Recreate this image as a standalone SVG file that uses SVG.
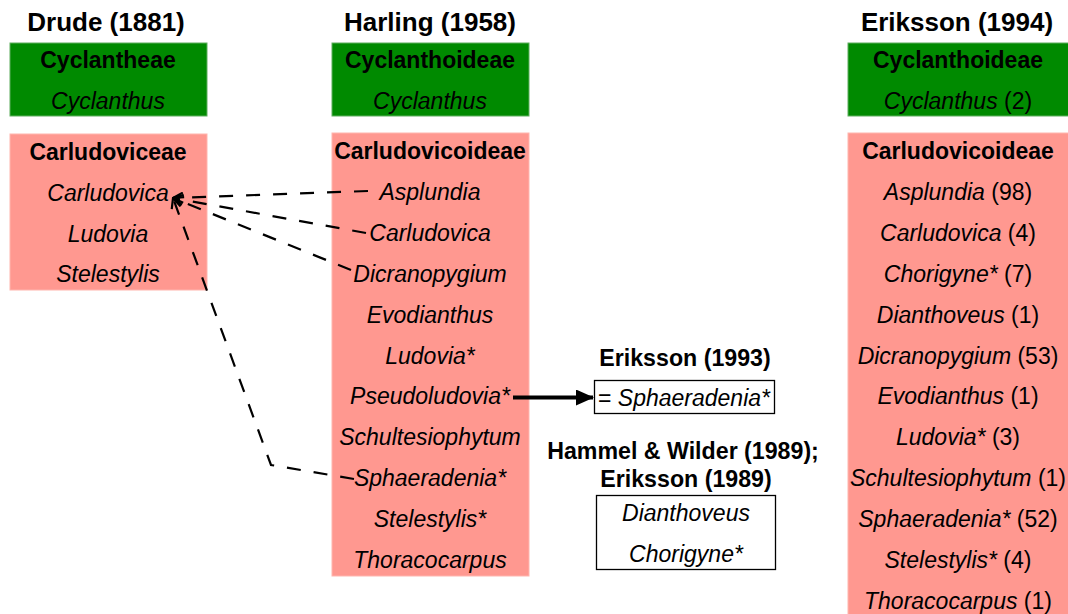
<svg xmlns="http://www.w3.org/2000/svg" width="1068" height="614" viewBox="0 0 1068 614">
<defs>
<style>
text{font-family:"Liberation Sans",Arial,sans-serif;fill:#000;text-anchor:middle}
.title{font-size:26px;font-weight:bold}
.sub{font-size:23.2px;font-weight:bold}
.hd{font-size:23px;font-weight:bold}
.it{font-size:23px;font-style:italic}
.n{font-style:normal}
.green{fill:#008a00;stroke:#5fae5f;stroke-width:1}
.pink{fill:#ff9890;stroke:#ffb5ae;stroke-width:1}
.wbox{fill:#fff;stroke:#000;stroke-width:1.3}
.dash{fill:none;stroke:#000;stroke-width:2.2;stroke-dasharray:14,13}
</style>
<marker id="open" viewBox="0 0 12 12" refX="11" refY="6" markerWidth="12" markerHeight="12" markerUnits="userSpaceOnUse" orient="auto">
<path d="M1,1 L11,6 L1,11" fill="none" stroke="#000" stroke-width="2.2"/>
</marker>
<marker id="solid" viewBox="0 0 18 16" refX="17" refY="8" markerWidth="18" markerHeight="16" markerUnits="userSpaceOnUse" orient="auto">
<path d="M0,0 L18,8 L0,16 Z" fill="#000"/>
</marker>
</defs>

<g id="drude">
<text class="title" x="106" y="30.5">Drude (1881)</text>
<rect class="green" x="10" y="43" width="197" height="73"/>
<text class="hd" x="108" y="68">Cyclantheae</text>
<text class="it" x="108" y="109">Cyclanthus</text>
<rect class="pink" x="10" y="134" width="197" height="156"/>
<text class="hd" x="108" y="159.5">Carludoviceae</text>
<text class="it" x="108" y="200.5">Carludovica</text>
<text class="it" x="108" y="241.5">Ludovia</text>
<text class="it" x="108" y="282">Stelestylis</text>
</g>

<g id="harling">
<text class="title" x="430" y="30.5">Harling (1958)</text>
<rect class="green" x="332" y="43" width="197" height="73"/>
<text class="hd" x="430" y="68">Cyclanthoideae</text>
<text class="it" x="430" y="109">Cyclanthus</text>
<rect class="pink" x="332" y="133" width="197" height="443"/>
<text class="hd" x="430" y="159">Carludovicoideae</text>
<text class="it" x="430" y="199.9">Asplundia</text>
<text class="it" x="430" y="240.8">Carludovica</text>
<text class="it" x="430" y="281.7">Dicranopygium</text>
<text class="it" x="430" y="322.6">Evodianthus</text>
<text class="it" x="430" y="363.5">Ludovia*</text>
<text class="it" x="430" y="404.4">Pseudoludovia*</text>
<text class="it" x="430" y="445.3">Schultesiophytum</text>
<text class="it" x="430" y="486.2">Sphaeradenia*</text>
<text class="it" x="430" y="527.1">Stelestylis*</text>
<text class="it" x="430" y="568">Thoracocarpus</text>
</g>

<g id="eriksson1993">
<text class="sub" x="685" y="365.5">Eriksson (1993)</text>
<rect class="wbox" x="594.5" y="380.5" width="180" height="33"/>
<text class="it" x="684" y="405.5"><tspan class="n">= </tspan>Sphaeradenia*</text>
</g>

<g id="hammel1989">
<text class="sub" x="683" y="458.5">Hammel &amp; Wilder (1989);</text>
<text class="sub" x="686" y="486.5">Eriksson (1989)</text>
<rect class="wbox" x="596.5" y="495.5" width="179" height="74"/>
<text class="it" x="686" y="521">Dianthoveus</text>
<text class="it" x="686" y="562">Chorigyne*</text>
</g>

<g id="eriksson1994">
<text class="title" x="957" y="30.5">Eriksson (1994)</text>
<rect class="green" x="848" y="43" width="221" height="73"/>
<text class="hd" x="958" y="68">Cyclanthoideae</text>
<text class="it" x="958" y="109">Cyclanthus<tspan class="n"> (2)</tspan></text>
<rect class="pink" x="848" y="133" width="221" height="482"/>
<text class="hd" x="958" y="159">Carludovicoideae</text>
<text class="it" x="958" y="199.9">Asplundia<tspan class="n"> (98)</tspan></text>
<text class="it" x="958" y="240.8">Carludovica<tspan class="n"> (4)</tspan></text>
<text class="it" x="958" y="281.7">Chorigyne*<tspan class="n"> (7)</tspan></text>
<text class="it" x="958" y="322.6">Dianthoveus<tspan class="n"> (1)</tspan></text>
<text class="it" x="958" y="363.5">Dicranopygium<tspan class="n"> (53)</tspan></text>
<text class="it" x="958" y="404.4">Evodianthus<tspan class="n"> (1)</tspan></text>
<text class="it" x="958" y="445.3">Ludovia*<tspan class="n"> (3)</tspan></text>
<text class="it" x="958" y="486.2">Schultesiophytum<tspan class="n"> (1)</tspan></text>
<text class="it" x="958" y="527.1">Sphaeradenia*<tspan class="n"> (52)</tspan></text>
<text class="it" x="958" y="568">Stelestylis*<tspan class="n"> (4)</tspan></text>
<text class="it" x="958" y="608.9">Thoracocarpus<tspan class="n"> (1)</tspan></text>
</g>

<g id="connectors">
<path class="dash" d="M368,191 L173,198" marker-end="url(#open)"/>
<path class="dash" d="M366,233 L173,198" marker-end="url(#open)"/>
<path class="dash" d="M351,270 L173,198" marker-end="url(#open)"/>
<path class="dash" d="M354,479 L271,465 L173,198" marker-end="url(#open)"/>
<path d="M513,397.5 L593,397.5" stroke="#000" stroke-width="4" fill="none" marker-end="url(#solid)"/>
</g>
</svg>
